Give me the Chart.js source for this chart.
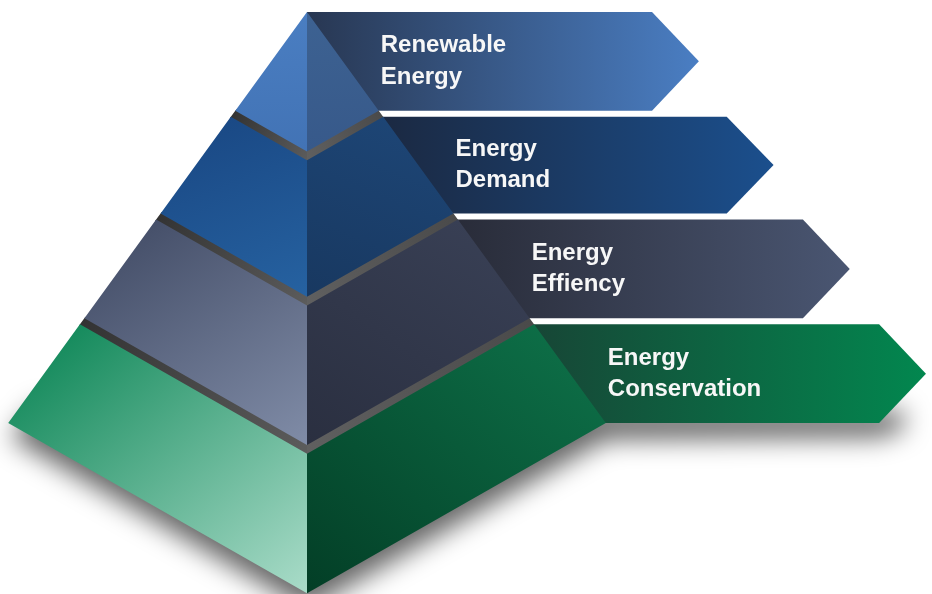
<!DOCTYPE html>
<html>
<head>
<meta charset="utf-8">
<title>Energy pyramid</title>
<script src="https://cdn.jsdelivr.net/npm/chart.js@4.4.0/dist/chart.umd.min.js"></script>
<style>
  html, body { margin: 0; padding: 0; background: #ffffff; }
  #wrap { width: 932px; height: 594px; position: relative; }
</style>
</head>
<body>
<div id="wrap"><canvas id="pyramid"></canvas></div>
<script>
// levels of the pyramid, top to bottom
const levels = ['Renewable Energy', 'Energy Demand', 'Energy Effiency', 'Energy Conservation'];
const labelLines = [['Renewable', 'Energy'], ['Energy', 'Demand'], ['Energy', 'Effiency'], ['Energy', 'Conservation']];
// where each tier starts / ends, in % of pyramid height (apex = 0, base corners = 100)
const tierTop = [0, 25.5, 50.5, 76];
const tierBottom = [24, 49, 74.5, 100];

// colours (gradient start, gradient end)
const leftFace  = [['#4a7ec2', '#4273b5'], ['#1a4985', '#2662a1'], ['#46506a', '#808ca7'], ['#168b5d', '#aadcc9']];
const rightFace = [['#3d6292', '#37598a'], ['#1d4575', '#183860'], ['#383f54', '#2a2f40'], ['#0d6d46', '#033e26']];
const bannerCol = [['#283752', '#4a7ec3'], ['#1b2942', '#1b4f8d'], ['#292c39', '#4a5672'], ['#174636', '#02874f']];
const bandLeft  = ['#333333', '#5c5c5c'];
const bandRight = ['#4a4a4a', '#606060'];

// pyramid shape
const SLOPE = 0.727;      // half width per unit of height
const DROP = 0.57;        // front edge hangs below the corners by this much of the half width
const bannerReach = 66.5; // banner body sticks out this far past the tier corner
const arrowDepth = 11.4;
const GAP = 0.35;         // overlap so the ledges have no seams

const halfW = d => SLOPE * d;
const front = d => d + DROP * halfW(d);
const pt = (x, y) => ({x, y});

function grad(c, x0, y0, x1, y1, stops, fallback) {
  const chart = c.chart;
  const sx = chart.scales.x, sy = chart.scales.y;
  if (!chart.chartArea || !sx || !sy) return fallback;
  const g = chart.ctx.createLinearGradient(
    sx.getPixelForValue(x0), sy.getPixelForValue(y0),
    sx.getPixelForValue(x1), sy.getPixelForValue(y1));
  stops.forEach((s, i) => g.addColorStop(i / (stops.length - 1), s));
  return g;
}

function shape(points, fillFn, fallback) {
  return {
    data: points,
    showLine: true,
    fill: 'shape',
    backgroundColor: c => grad(c, ...fillFn(), fallback),
    borderColor: 'rgba(0,0,0,0)',
    borderWidth: 0,
    pointRadius: 0,
    pointHoverRadius: 0
  };
}

const list = [];

// arrow banners behind the pyramid
levels.forEach((name, i) => {
  const t = tierTop[i], b = tierBottom[i], mid = (t + b) / 2;
  const xr = halfW(b) + bannerReach;
  const x0 = i === 0 ? 0 : halfW(t);
  const ds = shape([pt(0, t), pt(xr, t), pt(xr + arrowDepth, mid), pt(xr, b), pt(0, b)],
    () => [x0, mid, xr + arrowDepth, mid, bannerCol[i]], bannerCol[i][1]);
  ds.label = name;
  list.push(ds);
});

// dark ledges between the tiers
for (let i = 0; i < levels.length - 1; i++) {
  const b = tierBottom[i] - GAP, t = tierTop[i + 1] + GAP;
  list.push(shape([pt(-halfW(b), b), pt(0, front(b)), pt(0, front(t)), pt(-halfW(t), t)],
    () => [-halfW(t), t, 0, front(t), bandLeft], bandLeft[0]));
  list.push(shape([pt(halfW(b), b), pt(0, front(b)), pt(0, front(t)), pt(halfW(t), t)],
    () => [halfW(t), t, 0, front(t), bandRight], bandRight[0]));
}

// the two visible faces of every tier
levels.forEach((name, i) => {
  const t = tierTop[i], b = tierBottom[i];
  list.push(shape([pt(-halfW(t), t), pt(0, front(t)), pt(0, front(b)), pt(-halfW(b), b)],
    () => [-halfW(t), t, 0, front(b), leftFace[i]], leftFace[i][0]));
  list.push(shape([pt(halfW(t), t), pt(0, front(t)), pt(0, front(b)), pt(halfW(b), b)],
    () => [halfW(t), t, 0, front(b), rightFace[i]], rightFace[i][0]));
});

// first entry must be painted first
list.forEach((ds, i) => { ds.order = list.length - i; });

// soft shadow under the base and the lowest banner
const groundShadow = {
  id: 'groundShadow',
  beforeDatasetsDraw(chart) {
    const {ctx} = chart;
    const sx = chart.scales.x, sy = chart.scales.y;
    const last = tierBottom.length - 1;
    const b = tierBottom[last];
    const xr = halfW(b) + bannerReach;
    const px = v => sx.getPixelForValue(v), py = v => sy.getPixelForValue(v);
    ctx.save();
    ctx.filter = 'blur(13px)';
    ctx.fillStyle = 'rgba(0,0,0,0.6)';
    ctx.beginPath();
    ctx.moveTo(px(-halfW(b) + 7), py(b - 4));
    ctx.lineTo(px(-halfW(b) + 0.5), py(b + 3.5));
    ctx.lineTo(px(0), py(front(b) + 4));
    ctx.lineTo(px(halfW(b)), py(b + 4));
    ctx.lineTo(px(xr), py(b + 3.5));
    ctx.lineTo(px(xr + 6), py(b + 1.5));
    ctx.lineTo(px(xr + 6), py(b - 3));
    ctx.closePath();
    ctx.fill();
    ctx.restore();
  }
};

// two-line labels on the banners
const bannerText = {
  id: 'bannerText',
  afterDatasetsDraw(chart) {
    const {ctx} = chart;
    const sx = chart.scales.x, sy = chart.scales.y;
    ctx.save();
    ctx.fillStyle = '#f7f7f7';
    ctx.font = 'bold 24px "Liberation Sans", Arial, sans-serif';
    ctx.textBaseline = 'alphabetic';
    ctx.textAlign = 'left';
    labelLines.forEach((lines, i) => {
      const mid = (tierTop[i] + tierBottom[i]) / 2;
      const x = sx.getPixelForValue(halfW(tierBottom[i]) + 0.5);
      ctx.fillText(lines[0], x, sy.getPixelForValue(mid - 2.2));
      ctx.fillText(lines[1], x, sy.getPixelForValue(mid + 5.45));
    });
    ctx.restore();
  }
};

new Chart(document.getElementById('pyramid'), {
  type: 'scatter',
  data: { datasets: list },
  options: {
    responsive: true,
    maintainAspectRatio: false,
    animation: false,
    events: [],
    layout: { padding: 0 },
    scales: {
      x: { type: 'linear', display: false, min: -74.696, max: 152.068 },
      y: { type: 'linear', display: false, reverse: true, min: -2.92, max: 141.606 }
    },
    plugins: {
      legend: { display: false },
      tooltip: { enabled: false },
      filler: { propagate: false }
    }
  },
  plugins: [groundShadow, bannerText]
});
</script>
</body>
</html>
